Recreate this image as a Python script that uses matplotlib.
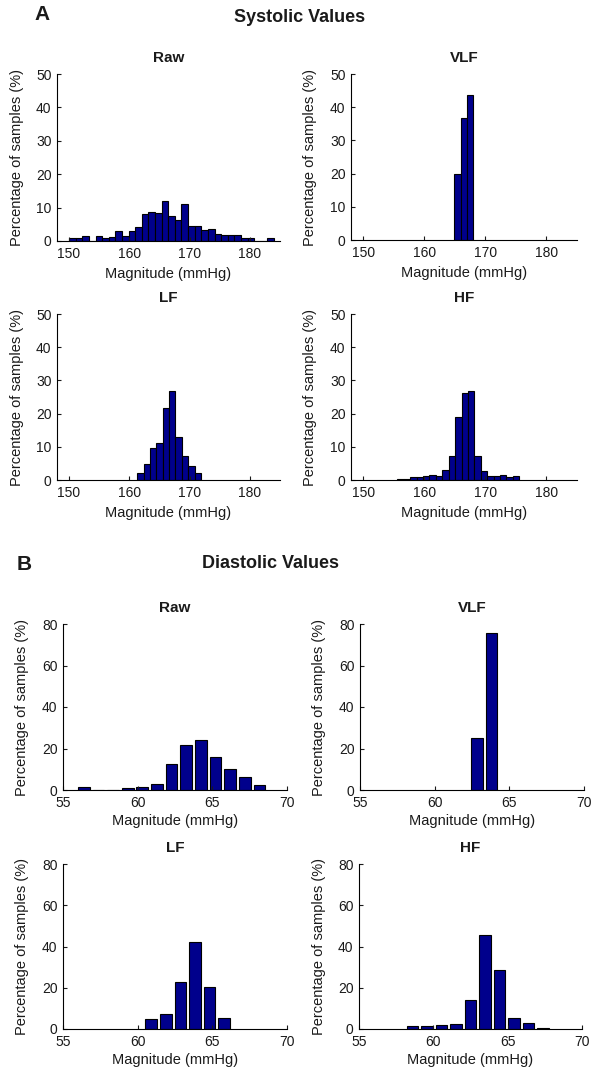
import numpy as np
import matplotlib
matplotlib.use('Agg')
from matplotlib import pyplot as plt

plt.rcParams['font.family'] = ['Liberation Sans', 'DejaVu Sans']

# systolic histograms: first bin edge, bin width, percentages
sys_raw_start, sys_raw_width = 150.0, 1.097
sys_raw = [0.8, 0.8, 1.5, 0, 1.5, 0.8, 1.2, 3.0, 1.5, 3.0, 4.1, 8.0, 8.8, 8.4, 11.9,
           7.4, 6.2, 11.2, 4.4, 4.4, 3.2, 3.7, 2.2, 1.8, 1.8, 1.8, 0.8, 0.8, 0, 0, 0.8]
sys_vlf_start, sys_vlf_width = 164.9, 1.03
sys_vlf = [19.8, 36.7, 43.7]
sys_lf_start, sys_lf_width = 161.3, 1.06
sys_lf = [2.2, 4.8, 9.5, 11.2, 21.7, 26.7, 13.0, 7.3, 4.1, 2.2]
sys_hf_start, sys_hf_width = 155.6, 1.05
sys_hf = [0.4, 0.4, 0.8, 0.8, 1.2, 1.6, 1.3, 3.0, 7.2, 19.0, 26.1, 26.9, 7.2, 2.6,
          1.2, 1.2, 1.6, 0.8, 1.2]

# diastolic bar charts: first bar centre, spacing, percentages
dia_raw_start, dia_raw_step = 56.39, 0.98
dia_raw = [1.6, 0, 0, 1.1, 1.6, 2.9, 12.6, 21.9, 24.3, 15.7, 10.2, 6.4, 2.2]
dia_vlf_start, dia_vlf_step = 62.82, 0.98
dia_vlf = [25.0, 75.7]
dia_lf_start, dia_lf_step = 60.9, 0.98
dia_lf = [4.7, 7.1, 22.7, 42.1, 20.6, 5.3]
dia_hf_start, dia_hf_step = 58.6, 0.975
dia_hf = [1.3, 1.3, 1.9, 2.6, 13.9, 45.8, 28.5, 5.3, 3.0, 0.6]

W, H = 594, 1076
fig = plt.figure(figsize=(W/100, H/100), dpi=100)
barcol = '#00008c'
txtcol = '#1a1a1a'


def px_axes(l, t, r, b):
    return fig.add_axes([l/W, 1-b/H, (r-l)/W, (b-t)/H])


def style(ax, title, xlim, xticks, ylim, yticks, lab_x, xlab_off):
    ax.set_xlim(xlim)
    ax.set_ylim(ylim)
    ax.set_xticks(xticks)
    ax.set_yticks(yticks)
    for s in ['top', 'right']:
        ax.spines[s].set_visible(False)
    for s in ['left', 'bottom']:
        ax.spines[s].set_linewidth(0.8)
    ax.tick_params(direction='in', length=3, width=0.8, labelsize=10,
                   colors=txtcol, pad=4)
    ax.set_title(title, fontsize=11, fontweight='bold', color=txtcol, pad=8.5)
    ax.set_xlabel('Magnitude (mmHg)', fontsize=10.5, color=txtcol)
    ax.set_ylabel('Percentage of samples (%)', fontsize=10.5, color=txtcol)
    ax.xaxis.label.set_va('center')
    ax.yaxis.label.set_va('center')
    bb = ax.get_position()
    hpx = bb.height*H
    wpx = bb.width*W
    ax.xaxis.set_label_coords(0.5, -xlab_off/hpx)
    ax.yaxis.set_label_coords((lab_x - bb.x0*W)/wpx, 0.5)


def sys_hist(ax, start, width, vals):
    n = len(vals)
    edges = start + width*np.arange(n)
    ax.bar(edges, vals, width=width, align='edge', color=barcol,
           edgecolor='k', linewidth=0.8)


def dia_bar(ax, start, step, vals):
    n = len(vals)
    cen = start + step*np.arange(n)
    ax.bar(cen, vals, width=0.8*step, color=barcol, edgecolor='k', linewidth=0.8)


# systolic panel
sys_ax = [
    (px_axes(57, 74, 280, 241), 'Raw', sys_raw_start, sys_raw_width, sys_raw, 17),
    (px_axes(351, 74, 577, 240), 'VLF', sys_vlf_start, sys_vlf_width, sys_vlf, 310),
    (px_axes(57, 314, 280, 480), 'LF', sys_lf_start, sys_lf_width, sys_lf, 17),
    (px_axes(351, 314, 577, 480), 'HF', sys_hf_start, sys_hf_width, sys_hf, 310),
]
for ax, t, st, w, v, lx in sys_ax:
    sys_hist(ax, st, w, v)
    style(ax, t, (148, 185), [150, 160, 170, 180], (0, 50), range(0, 51, 10), lx, 33)

# diastolic panel
dia_ax = [
    (px_axes(63, 624, 287, 790), 'Raw', dia_raw_start, dia_raw_step, dia_raw, 22),
    (px_axes(360, 624, 584, 790), 'VLF', dia_vlf_start, dia_vlf_step, dia_vlf, 319),
    (px_axes(63, 864, 287, 1029), 'LF', dia_lf_start, dia_lf_step, dia_lf, 22),
    (px_axes(359, 864, 582, 1029), 'HF', dia_hf_start, dia_hf_step, dia_hf, 319),
]
for ax, t, st, w, v, lx in dia_ax:
    dia_bar(ax, st, w, v)
    style(ax, t, (55, 70), [55, 60, 65, 70], (0, 80), range(0, 81, 20), lx, 31)

fig.text(42/W, 1-15/H, 'A', fontsize=15, fontweight='bold', ha='center', va='center', color=txtcol)
fig.text(234/W, 1-17/H, 'Systolic Values', fontsize=13, fontweight='bold',
         ha='left', va='center', color=txtcol)
fig.text(24/W, 1-565/H, 'B', fontsize=15, fontweight='bold', ha='center', va='center', color=txtcol)
fig.text(202/W, 1-564/H, 'Diastolic Values', fontsize=13, fontweight='bold',
         ha='left', va='center', color=txtcol)

fig.savefig('out.png', dpi=100, facecolor='white')
